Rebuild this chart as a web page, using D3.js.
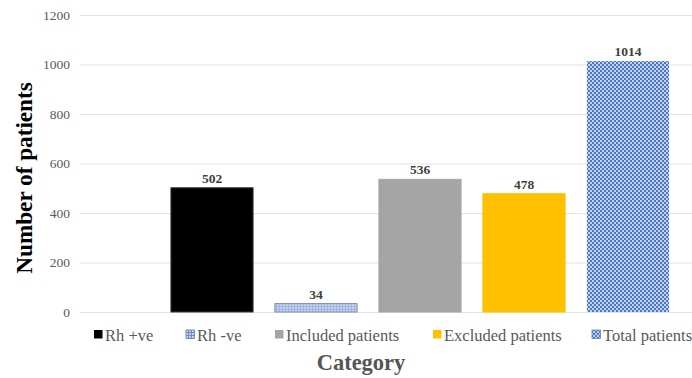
<!DOCTYPE html>
<html><head><meta charset="utf-8">
<script src="https://cdn.jsdelivr.net/npm/d3@7"></script>
<style>body{margin:0;background:#fff}svg{display:block}</style>
</head><body><svg id="c" width="692" height="378"></svg>
<script>
const categories = ["Rh +ve", "Rh -ve", "Included patients", "Excluded patients", "Total patients"];
const values = [502, 34, 536, 478, 1014];
const yTicks = [0, 200, 400, 600, 800, 1000, 1200];
const fills = ["#000000", "url(#pRh)", "#a5a5a5", "#ffc000", "url(#pTot)"];
const legendFills = ["#000000", "url(#pRhL)", "#a5a5a5", "#ffc000", "url(#pTotL)"];
const strokes = ["#3a3a3a", "#7f8ea6", "#a5a5a5", "#ffc000", "none"];

const svg = d3.select("#c");
const W = 692, H = 378;
const serif = "'Liberation Serif','Times New Roman',serif";
svg.append("rect").attr("width", W).attr("height", H).attr("fill", "#fff");

const defs = svg.append("defs");
const p1 = defs.append("pattern").attr("id", "pRh").attr("width", 3).attr("height", 3).attr("patternUnits", "userSpaceOnUse");
p1.append("rect").attr("width", 3).attr("height", 3).attr("fill", "#c2d2ee");
p1.append("rect").attr("width", 3).attr("height", 1).attr("fill", "#a0b8e0");
p1.append("rect").attr("width", 1).attr("height", 3).attr("fill", "#a0b8e0");
const p1l = defs.append("pattern").attr("id", "pRhL").attr("width", 3).attr("height", 3).attr("patternUnits", "userSpaceOnUse");
p1l.append("rect").attr("width", 3).attr("height", 3).attr("fill", "#c2d2ee");
p1l.append("rect").attr("width", 3).attr("height", 1).attr("fill", "#6f8cc0");
p1l.append("rect").attr("width", 1).attr("height", 3).attr("fill", "#6f8cc0");
function checker(id) {
  const p = defs.append("pattern").attr("id", id).attr("width", 4).attr("height", 4).attr("patternUnits", "userSpaceOnUse");
  p.append("rect").attr("width", 4).attr("height", 4).attr("fill", "#4a78c8");
  p.append("rect").attr("x", 0).attr("y", 0).attr("width", 2).attr("height", 2).attr("fill", "#c3d2ee");
  p.append("rect").attr("x", 2).attr("y", 2).attr("width", 2).attr("height", 2).attr("fill", "#c3d2ee");
}
checker("pTot"); checker("pTotL");

const y = d3.scaleLinear().domain([0, 1200]).range([312, 15]);
const x = d3.scaleBand().domain(categories).range([160, 680]).paddingInner(0.21).paddingOuter(0.105);

const yAxis = d3.axisLeft(y).tickValues(yTicks).tickSize(-(W - 80)).tickPadding(10).tickFormat(d3.format("d"));
const ga = svg.append("g").attr("transform", "translate(80,0)").call(yAxis);
ga.select(".domain").remove();
ga.selectAll(".tick line").attr("stroke", "#e4e4e4").attr("stroke-width", 1.2);
ga.selectAll(".tick text").attr("fill", "#5a5a5a").attr("font-family", serif).attr("font-size", 13.5).attr("x", -10);

svg.append("g").selectAll("rect").data(categories).join("rect")
  .attr("x", d => x(d)).attr("width", x.bandwidth())
  .attr("y", (d, i) => y(values[i])).attr("height", (d, i) => y(0) - y(values[i]))
  .attr("fill", (d, i) => fills[i])
  .attr("stroke", (d, i) => strokes[i]).attr("stroke-width", 1);

svg.append("g").selectAll("text").data(categories).join("text")
  .attr("x", d => x(d) + x.bandwidth() / 2)
  .attr("y", (d, i) => y(values[i]) - 5)
  .attr("text-anchor", "middle")
  .attr("font-family", serif).attr("font-weight", "bold").attr("font-size", 13.5)
  .attr("fill", "#404040")
  .text((d, i) => values[i]);

svg.append("text").attr("transform", "translate(32,178) rotate(-90)")
  .attr("text-anchor", "middle").attr("font-family", serif).attr("font-weight", "bold")
  .attr("font-size", 23.2).attr("fill", "#000").text("Number of patients");

svg.append("text").attr("x", 361).attr("y", 370).attr("text-anchor", "middle")
  .attr("font-family", serif).attr("font-weight", "bold").attr("font-size", 22.5)
  .attr("fill", "#555").text("Category");

const legendTextX = [105, 197, 286, 444, 603];
const lg = svg.append("g").selectAll("g").data(categories).join("g")
  .attr("transform", (d, i) => `translate(${legendTextX[i]},341)`);
lg.append("rect").attr("x", -11).attr("y", -11).attr("width", 8.5).attr("height", 8.5)
  .attr("fill", (d, i) => legendFills[i]).attr("stroke", (d, i) => i === 1 || i === 4 ? "#5f7fb8" : "none").attr("stroke-width", 0.8);
lg.append("text").attr("x", 0).attr("y", 0).attr("font-family", serif).attr("font-size", 16.5)
  .attr("fill", "#595959").text(d => d);
</script></body></html>
